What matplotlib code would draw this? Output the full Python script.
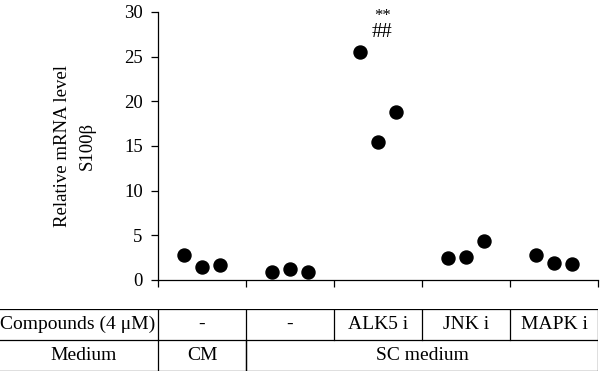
import matplotlib

matplotlib.use("Agg")
import matplotlib.pyplot as plt

plt.rcParams["font.family"] = ["Liberation Serif", "DejaVu Serif"]

# group index 0..4 and replicate values
group_of_point = [0, 0, 0, 1, 1, 1, 2, 2, 2, 3, 3, 3, 4, 4, 4]
offsets = [0.3, 0.5, 0.7] * 5
s100b = [2.8, 1.5, 1.7,
         0.9, 1.2, 0.9,
         25.5, 15.5, 18.8,
         2.5, 2.6, 4.4,
         2.8, 1.9, 1.8]

compounds = ["-", "-", "ALK5 i", "JNK i", "MAPK i"]
medium_cells = [("CM", 0, 1), ("SC medium", 1, 5)]
yticks = [0, 5, 10, 15, 20, 25, 30]

W, H = 600, 373
fig = plt.figure(figsize=(W / 100, H / 100), dpi=100)

# main scatter axes
x0, x1 = 158, 598
ytop, ybot = 12, 280
ax = fig.add_axes([x0 / W, 1 - ybot / H, (x1 - x0) / W, (ybot - ytop) / H])
xs = [g + o for g, o in zip(group_of_point, offsets)]
ax.scatter(xs, s100b, s=88, color="black", zorder=3, clip_on=False)

ax.set_xlim(0, 5)
ax.set_ylim(0, 30)
ax.set_xticks(range(6))
ax.set_xticklabels([])
ax.set_yticks(yticks)
ax.tick_params(axis="both", direction="out", length=5, width=0.9,
               labelsize=13.5, pad=6)
for side in ["top", "right"]:
    ax.spines[side].set_visible(False)
for side in ["left", "bottom"]:
    ax.spines[side].set_linewidth(0.9)

ax.set_ylabel("Relative mRNA level\nS100β", fontsize=13.5, linespacing=1.6,
              labelpad=20)
ax.text(2.55, 29.55, "**", ha="center", va="center", fontsize=12)
ax.text(2.55, 27.7, "##", ha="center", va="center", fontsize=15)

# table below the plot, sharing the group positions
gw = (x1 - x0) / 5
t_top, t_bot = 309, 371
tab = fig.add_axes([0, 1 - t_bot / H, x1 / W, (t_bot - t_top) / H])
tab.set_xlim(-x0 / gw, 5)
tab.set_ylim(0, 2)
tab.axis("off")
lc = dict(color="black", lw=0.9)
left = -x0 / gw
for yy in [0, 1, 2]:
    tab.plot([left, 5], [yy, yy], **lc)
for xx in range(6):
    tab.plot([xx, xx], [1, 2], **lc)
for _, a, b in medium_cells:
    tab.plot([a, a], [0, 1], **lc)
    tab.plot([b, b], [0, 1], **lc)

fs = 14
tab.text(left + 0.005, 1.5, "Compounds (4 μM)", ha="left", va="center", fontsize=fs)
tab.text(left / 2 + 0.05, 0.5, "Medium", ha="center", va="center", fontsize=fs)
for i, c in enumerate(compounds):
    tab.text(i + 0.5, 1.5, c, ha="center", va="center", fontsize=fs)
for name, a, b in medium_cells:
    tab.text((a + b) / 2, 0.5, name, ha="center", va="center", fontsize=fs)

fig.savefig("out.png", dpi=100)
